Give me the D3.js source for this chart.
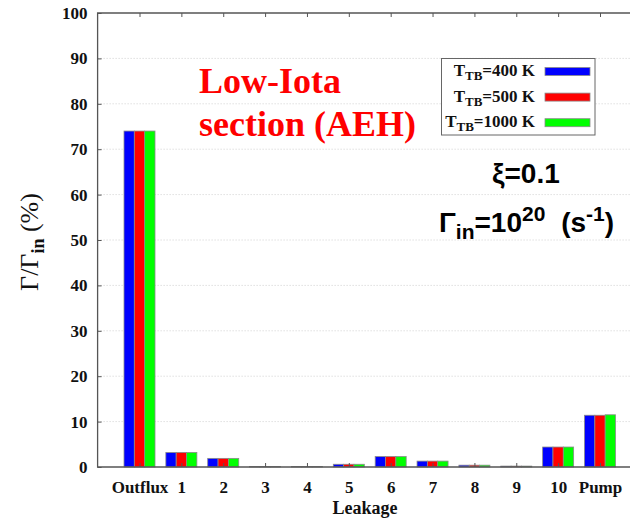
<!DOCTYPE html>
<html>
<head>
<meta charset="utf-8">
<script src="https://cdn.jsdelivr.net/npm/d3@7"></script>
<style>
  html, body { margin: 0; padding: 0; background: #fff; }
  svg { display: block; }
</style>
</head>
<body>
<svg id="chart" width="630" height="520"></svg>
<script>
// Particle flux fractions per exit channel (percent of input flux)
const categories = ["Outflux", "1", "2", "3", "4", "5", "6", "7", "8", "9", "10", "Pump"];
const seriesNames = ["T_TB=400 K", "T_TB=500 K", "T_TB=1000 K"];
const t400  = [74.0, 3.2, 1.9, 0.1, 0.1, 0.6, 2.3, 1.3, 0.4, 0.2, 4.4, 11.4];
const t500  = [74.0, 3.2, 1.9, 0.1, 0.1, 0.6, 2.3, 1.3, 0.4, 0.2, 4.4, 11.4];
const t1000 = [74.0, 3.2, 1.9, 0.1, 0.1, 0.6, 2.3, 1.3, 0.4, 0.2, 4.4, 11.5];
const yTicks = [0, 10, 20, 30, 40, 50, 60, 70, 80, 90, 100];
const seriesColors = ["#0000ff", "#ff0000", "#00ff00"];
const seriesValues = [t400, t500, t1000];
const legendTemps = ["400", "500", "1000"];

const svg = d3.select("#chart");
const serif = "'Liberation Serif', 'Times New Roman', serif";
const sans = "'Liberation Sans', Arial, sans-serif";

// Plot frame (the right side runs past the page edge)
const plotL = 97.6, plotR = 642, plotT = 13, plotB = 467;

const x = d3.scalePoint().domain(categories).range([139.5, 600]);
const xs = d3.scaleBand().domain(d3.range(seriesValues.length)).range([-15.5, 15.5]).padding(0);
const y = d3.scaleLinear().domain([0, 100]).range([plotB, plotT]);

// Dotted grid lines
svg.append("g").selectAll("line")
  .data(yTicks.filter(t => t > 0 && t < 100))
  .join("line")
  .attr("x1", plotL).attr("x2", plotR)
  .attr("y1", d => y(d)).attr("y2", d => y(d))
  .attr("stroke", "#cfcfcf").attr("stroke-width", 1)
  .attr("stroke-dasharray", "1,2");

// Bars
const rows = categories.map((c, i) => ({ c, vals: seriesValues.map(s => s[i]) }));
const groups = svg.append("g").selectAll("g")
  .data(rows).join("g")
  .attr("transform", d => `translate(${x(d.c)},0)`);
groups.selectAll("rect")
  .data(d => d.vals.map((v, k) => ({ v, k })))
  .join("rect")
  .attr("x", d => xs(d.k))
  .attr("width", xs.bandwidth())
  .attr("y", d => y(d.v))
  .attr("height", d => y(0) - y(d.v))
  .attr("fill", d => seriesColors[d.k])
  .attr("stroke", "#8a8a8a").attr("stroke-width", 0.8);

// Frame
const frameColor = "#555";
svg.append("path")
  .attr("d", `M${plotR},${plotT}H${plotL}V${plotB}H${plotR}`)
  .attr("fill", "none").attr("stroke", frameColor).attr("stroke-width", 1.3);

// Y axis ticks (inward) and labels
const yAxis = d3.axisLeft(y).tickValues(yTicks).tickSize(-4).tickPadding(10);
const yg = svg.append("g").attr("transform", `translate(${plotL},0)`).call(yAxis);
yg.select(".domain").remove();
yg.selectAll(".tick line").attr("stroke", frameColor);
yg.selectAll(".tick text")
  .attr("font-family", serif).attr("font-weight", "bold").attr("font-size", 17)
  .attr("fill", "#111");

// X axis ticks (inward, bottom and top) and labels
const xAxis = d3.axisBottom(x).tickSize(-4).tickPadding(14);
const xg = svg.append("g").attr("transform", `translate(0,${plotB})`).call(xAxis);
xg.select(".domain").remove();
xg.selectAll(".tick line").attr("stroke", frameColor);
xg.selectAll(".tick text")
  .attr("font-family", serif).attr("font-weight", "bold").attr("font-size", 17)
  .attr("fill", "#111");
const xTop = d3.axisTop(x).tickSize(-4).tickFormat("");
const xgt = svg.append("g").attr("transform", `translate(0,${plotT})`).call(xTop);
xgt.select(".domain").remove();
xgt.selectAll(".tick line").attr("stroke", frameColor);

// Axis titles
svg.append("text")
  .attr("x", 365).attr("y", 514)
  .attr("text-anchor", "middle")
  .attr("font-family", serif).attr("font-weight", "bold").attr("font-size", 18)
  .attr("fill", "#111")
  .text("Leakage");

const yl = svg.append("text")
  .attr("transform", "translate(38,242) rotate(-90)")
  .attr("text-anchor", "middle")
  .attr("font-family", serif).attr("font-size", 26).attr("fill", "#111");
yl.append("tspan").text("Γ/Γ");
yl.append("tspan").attr("font-size", 18).attr("font-weight", "bold").attr("dy", 6).text("in");
yl.append("tspan").attr("dy", -6).text(" (%)");

// Section title
const title = svg.append("text")
  .attr("font-family", serif).attr("font-weight", "bold").attr("font-size", 36)
  .attr("fill", "#ff0000");
title.append("tspan").attr("x", 199).attr("y", 93).text("Low-Iota");
title.append("tspan").attr("x", 199).attr("y", 136).text("section (AEH)");

// Parameters
svg.append("text")
  .attr("x", 492).attr("y", 183)
  .attr("font-family", sans).attr("font-weight", "bold").attr("font-size", 28)
  .attr("fill", "#000")
  .text("ξ=0.1");
const gin = svg.append("text")
  .attr("x", 439).attr("y", 232)
  .attr("font-family", sans).attr("font-weight", "bold").attr("font-size", 28)
  .attr("fill", "#000");
gin.append("tspan").text("Γ");
gin.append("tspan").attr("font-size", 21).attr("dy", 7).text("in");
gin.append("tspan").attr("dy", -7).text("=10");
gin.append("tspan").attr("font-size", 21).attr("dy", -11).text("20");
gin.append("tspan").attr("dy", 11).attr("dx", 8).text(" (s");
gin.append("tspan").attr("font-size", 21).attr("dy", -11).text("-1");
gin.append("tspan").attr("dy", 11).text(")");

// Legend
const lg = svg.append("g");
lg.append("rect")
  .attr("x", 441.5).attr("y", 58.5).attr("width", 153.5).attr("height", 76.5)
  .attr("fill", "#fff").attr("stroke", "#666").attr("stroke-width", 1);
const rowsL = lg.selectAll("g.row")
  .data(seriesNames.map((n, i) => ({ n, i })))
  .join("g").attr("class", "row")
  .attr("transform", d => `translate(0,${76 + d.i * 25.6})`);
const lt = rowsL.append("text")
  .attr("x", 535).attr("text-anchor", "end")
  .attr("font-family", serif).attr("font-weight", "bold").attr("font-size", 17)
  .attr("fill", "#111");
lt.append("tspan").text("T");
lt.append("tspan").attr("font-size", 13).attr("dy", 4).text("TB");
lt.append("tspan").attr("dy", -4).text(d => "=" + legendTemps[d.i] + " K");
rowsL.append("rect")
  .attr("x", 545).attr("y", -8.5).attr("width", 45).attr("height", 8)
  .attr("fill", d => seriesColors[d.i])
  .attr("stroke", "#8a8a8a").attr("stroke-width", 0.8);
</script>
</body>
</html>
